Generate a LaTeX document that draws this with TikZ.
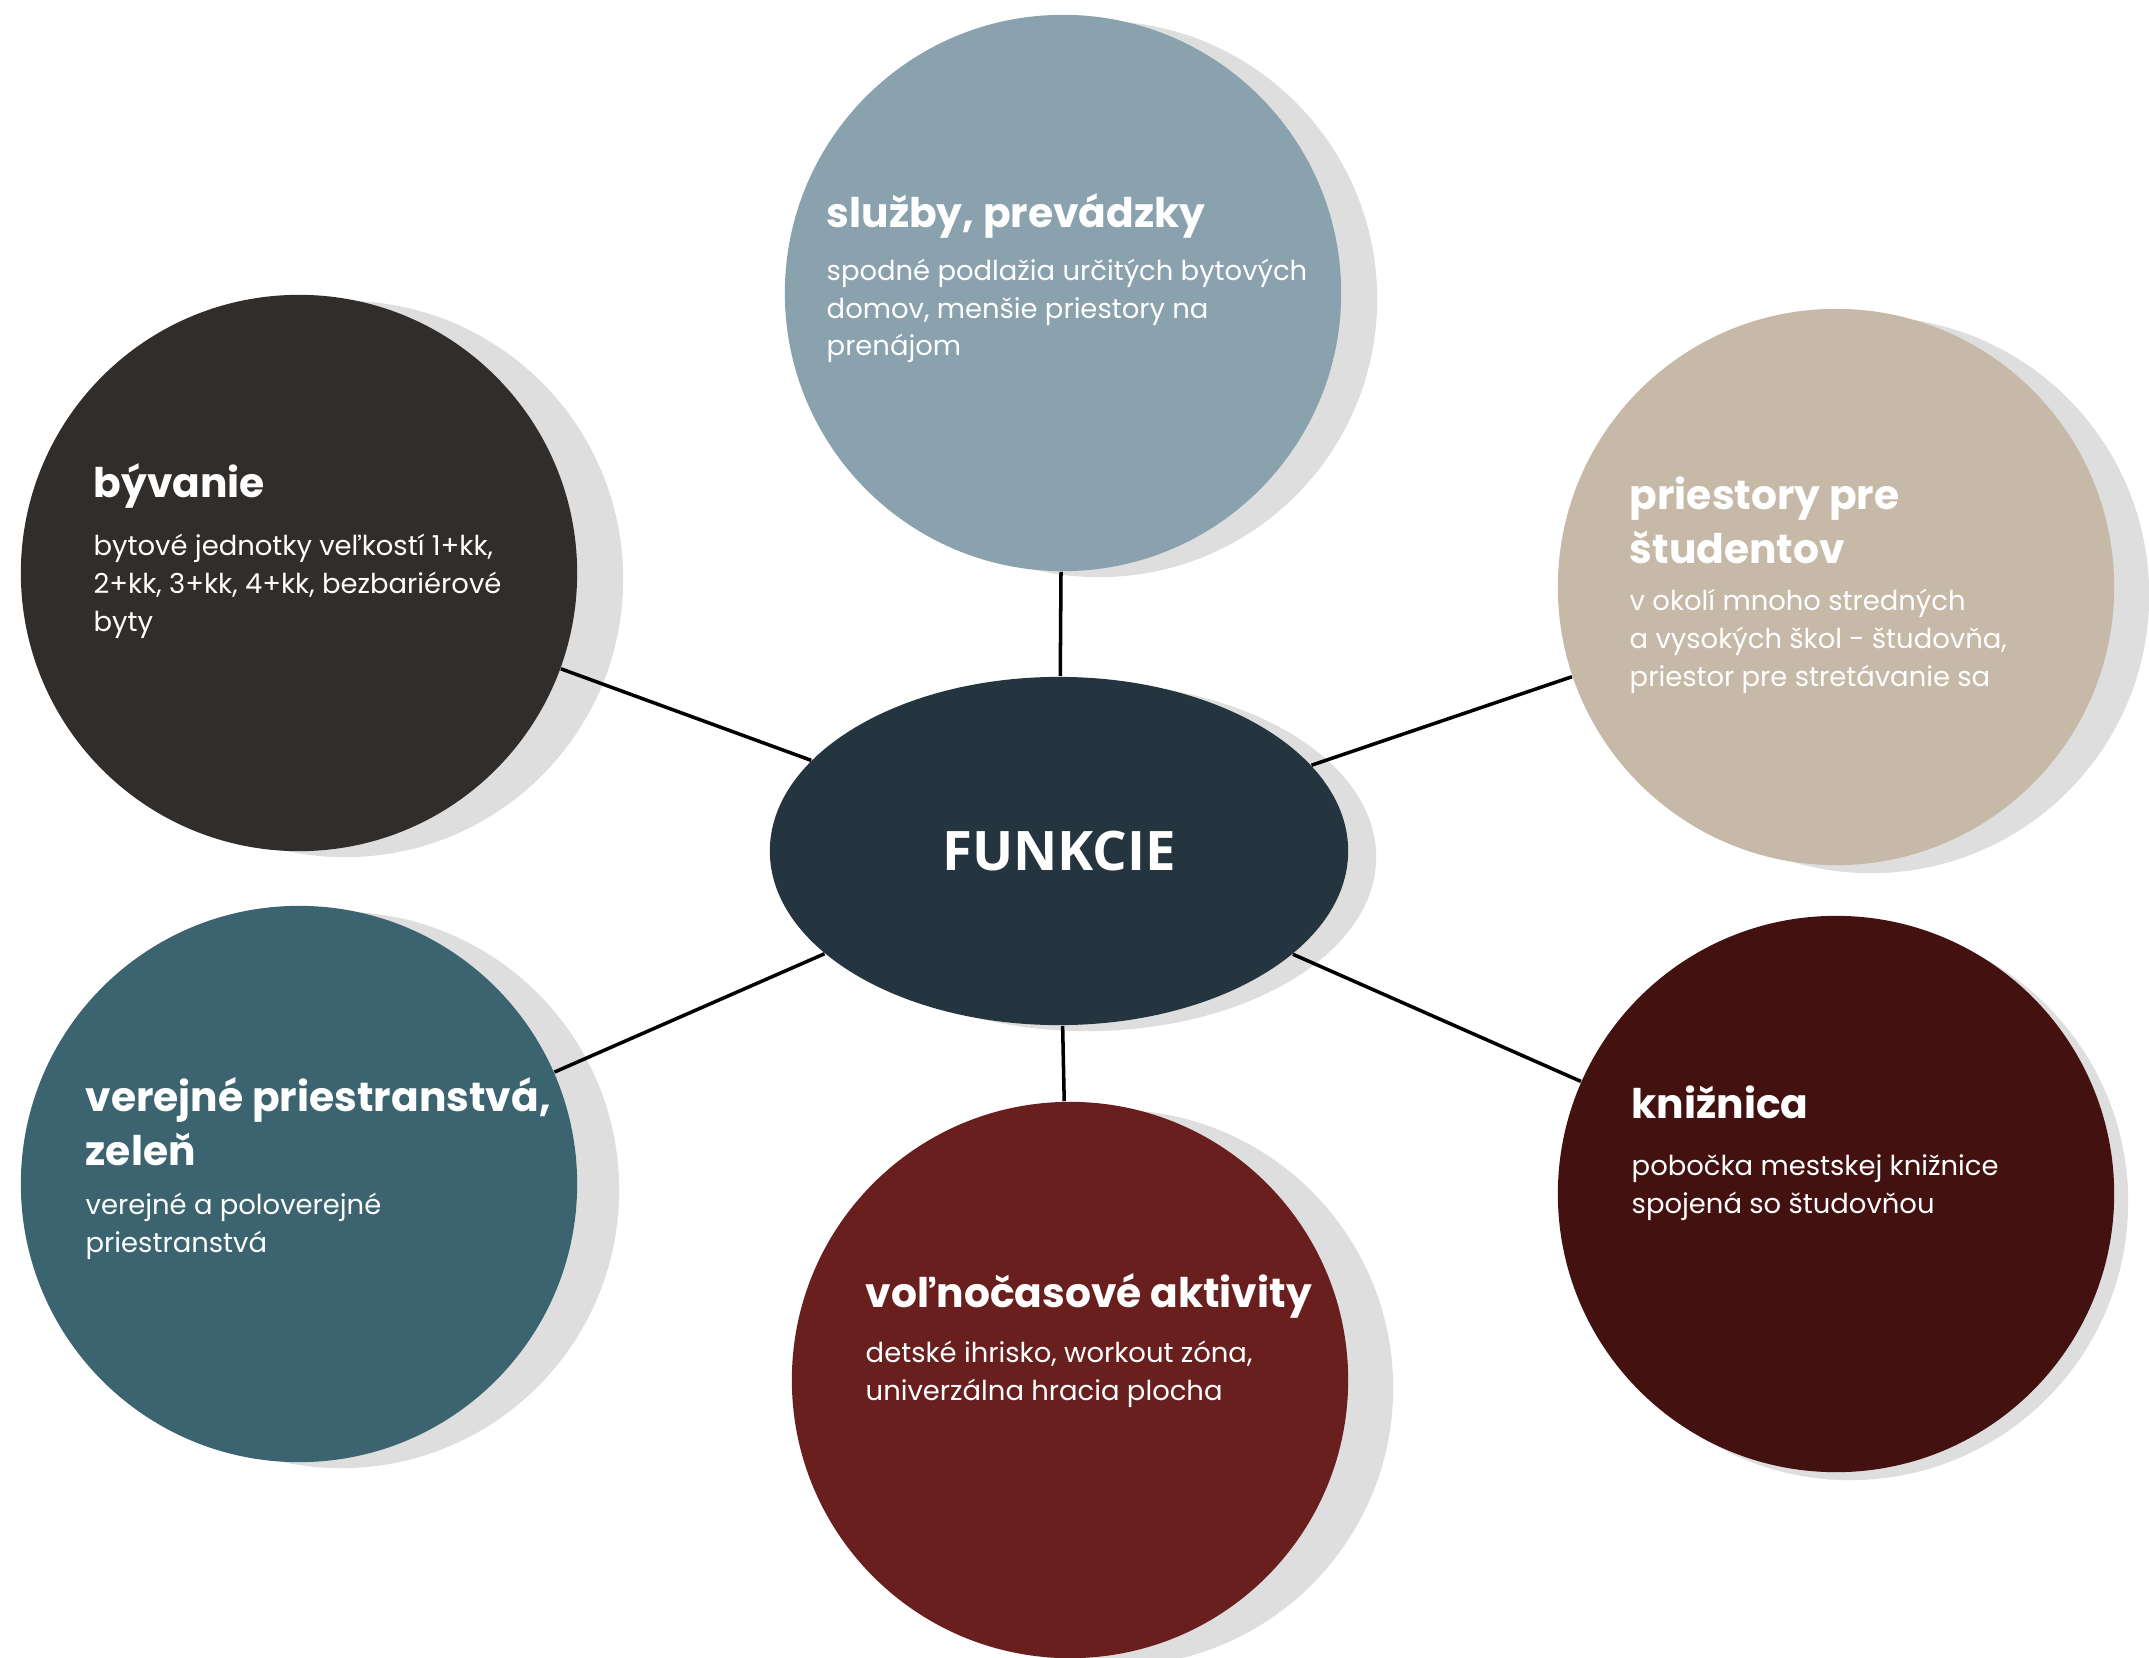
\documentclass[tikz,border=0pt]{standalone}
\usepackage{fontspec}
\setmainfont{Poppins}
\newfontfamily\hubfont{Open Sans}
\usetikzlibrary{shapes.geometric,positioning}

\definecolor{hubblue}{HTML}{243540}
\definecolor{sluzcol}{HTML}{8AA1AE}
\definecolor{byvcol}{HTML}{312D2A}
\definecolor{priecol}{HTML}{C7B9A8}
\definecolor{verejcol}{HTML}{3B6470}
\definecolor{volcol}{HTML}{6A1F1F}
\definecolor{knizcol}{HTML}{421110}
\definecolor{shadowgray}{HTML}{DEDEDE}

\pgfdeclarelayer{bg}
\pgfsetlayers{bg,main}

\begin{document}
\begin{tikzpicture}[x=0.01cm, y=-0.01cm]
		\tikzset{%
  % Specifications for style of nodes:
            bubble/.style = {circle, minimum size=5.56cm, inner sep=0pt},
            ghost/.style = {circle, fill=shadowgray, minimum size=5.56cm, inner sep=0pt},
              hub/.style = {ellipse, fill=hubblue, minimum width=5.78cm, minimum height=3.48cm,
                           inner sep=0pt, text=white, font=\hubfont\bfseries\fontsize{15.5}{18}\selectfont},
              ttl/.style = {text=white, inner sep=0pt, align=left, anchor=base west,
                           font=\bfseries\fontsize{11.6}{15.1}\selectfont},
              bdy/.style = {text=white, inner sep=0pt, align=left, anchor=base west,
                           font=\fontsize{7.8}{10.8}\selectfont},
             link/.style = {draw=black, line width=1pt},
}
  \useasboundingbox (0,0) rectangle (2149,1658);

  % Specification of nodes (position, etc.)
  \node (fun) [hub] at (1059,851) {FUNKCIE};

  \node (sluz) [bubble, fill=sluzcol] at (1063,293) {};
  \node (byv)  [bubble, fill=byvcol] at (299,573) {};
  \node (prie) [bubble, fill=priecol] at (1836,587) {};
  \node (verej) [bubble, fill=verejcol] at (299,1184) {};
  \node (vol)  [bubble, fill=volcol] at (1070,1380) {};
  \node (kniz) [bubble, fill=knizcol] at (1836,1194) {};

  % texts in the circles (base = last line)
  \node (sluz-t) [ttl] at (826,228) {služby, prevádzky};
  \node (sluz-b) [bdy] at (826,356) {spodné podlažia určitých bytových\\domov, menšie priestory na\\prenájom};

  \node (byv-t) [ttl] at (93,497) {bývanie};
  \node (byv-b) [bdy] at (93,631) {bytové jednotky veľkostí 1+kk,\\2+kk, 3+kk, 4+kk, bezbariérové\\byty};

  \node (prie-t) [ttl] at (1629,563) {priestory pre\\študentov};
  \node (prie-b) [bdy] at (1629,686) {v okolí mnoho stredných\\a vysokých škol - študovňa,\\priestor pre stretávanie sa};

  \node (verej-t) [ttl] at (85,1165) {verejné priestranstvá,\\zeleň};
  \node (verej-b) [bdy] at (85,1252) {verejné a poloverejné\\priestranstvá};

  \node (vol-t) [ttl] at (865,1307) {voľnočasové aktivity};
  \node (vol-b) [bdy] at (865,1400) {detské ihrisko, workout zóna,\\univerzálna hracia plocha};

  \node (kniz-t) [ttl] at (1631,1118) {knižnica};
  \node (kniz-b) [bdy] at (1631,1213) {pobočka mestskej knižnice\\spojená so študovňou};

\begin{pgfonlayer}{bg}
  \fill[white] (0,0) rectangle (2149,1658);
  % shadows
  \node (fun-s) [hub, fill=shadowgray] at ([shift={(28,6)}]fun.center) {};
  \node (sluz-s) [ghost] at ([shift={(36,6)}]sluz.center) {};
  \node (byv-s) [ghost] at ([shift={(46,6)}]byv.center) {};
  \node (prie-s) [ghost] at ([shift={(35,8)}]prie.center) {};
  \node (verej-s) [ghost] at ([shift={(42,6)}]verej.center) {};
  \node (vol-s) [ghost] at ([shift={(45,8)}]vol.center) {};
  \node (kniz-s) [ghost] at ([shift={(14,8)}]kniz.center) {};
  % lines between nodes
  \draw[link] (fun) -- (sluz);
  \draw[link] (fun) -- (byv);
  \draw[link] (fun) -- (prie);
  \draw[link] (fun) -- (verej);
  \draw[link] (fun) -- (vol);
  \draw[link] (fun) -- (kniz);
\end{pgfonlayer}

  \end{tikzpicture}
\end{document}
